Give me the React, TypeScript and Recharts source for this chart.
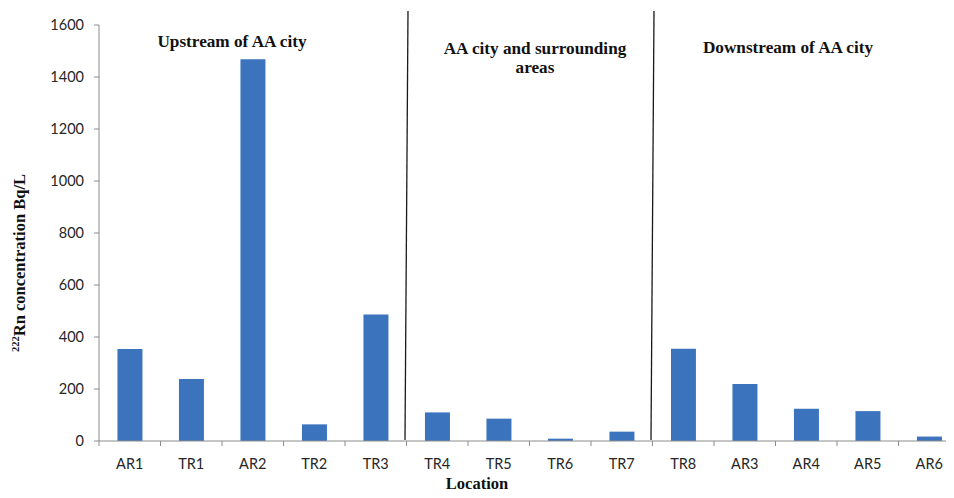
import React from 'react';
import { BarChart, Bar, XAxis, YAxis, ReferenceLine, Label } from 'recharts';

// Sampling locations along the river, upstream to downstream
const categories = ['AR1', 'TR1', 'AR2', 'TR2', 'TR3', 'TR4', 'TR5', 'TR6', 'TR7', 'TR8', 'AR3', 'AR4', 'AR5', 'AR6'];
// 222Rn activity concentration (Bq/L)
const radon = [354, 238, 1468, 64, 487, 110, 86, 9, 36, 355, 219, 124, 115, 17];
const yTicks = [0, 200, 400, 600, 800, 1000, 1200, 1400, 1600];
// last location of each zone before a divider
const zoneEnds = ['TR3', 'TR7'];

const data = categories.map((name, i) => ({ name, radon: radon[i] }));

const CHART_W = 962;
const CHART_H = 498;
const Y_AXIS_W = 99;
const RIGHT = 2;
const STEP = (CHART_W - Y_AXIS_W - RIGHT) / categories.length;

const axisGrey = '#8c8c8c';
const tickFont = 'Lato, "Liberation Sans", sans-serif';
const titleFont = '"Liberation Serif", "Times New Roman", serif';

// Excel-style category tick: mark sits on the band boundary, label in the middle
const CategoryTick = (props: any) => {
  const { x, y, payload, index } = props;
  const left = x - STEP / 2;
  return (
    <g>
      <line x1={left} x2={left} y1={y} y2={y + 5} stroke={axisGrey} />
      {index === categories.length - 1 && (
        <line x1={x + STEP / 2} x2={x + STEP / 2} y1={y} y2={y + 5} stroke={axisGrey} />
      )}
      <text x={x} y={y + 28} textAnchor="middle" fontFamily={tickFont} fontSize={14.5} fill="#262626">
        {payload.value}
      </text>
    </g>
  );
};

// hand-drawn looking divider, slightly tilted and running above the plot
const Divider = (props: any) => {
  const top = Math.min(props.y1, props.y2);
  const bottom = Math.max(props.y1, props.y2);
  return (
    <line
      x1={props.x1 + 1.5}
      y1={top - 14}
      x2={props.x2 - 1.5}
      y2={bottom - 1}
      stroke="#1a1a1a"
      strokeWidth={1.3}
    />
  );
};

const YTitle = () => (
  <text
    x={25}
    y={263}
    transform="rotate(-90, 25, 263)"
    textAnchor="middle"
    fontFamily={titleFont}
    fontWeight="bold"
    fontSize={16.5}
    fill="#111"
  >
    <tspan fontSize={10.5} dy={-6}>222</tspan>
    <tspan dy={6}>Rn concentration Bq/L</tspan>
  </text>
);

const zoneTitle = { fontFamily: titleFont, fontWeight: 'bold', fontSize: 17.2, fill: '#111' } as const;

export default function App() {
  return (
    <div style={{ margin: -8, width: 954, height: 498, overflow: 'hidden', position: 'relative', background: '#fff' }}>
      <BarChart
        width={CHART_W}
        height={CHART_H}
        data={data}
        margin={{ top: 25, right: RIGHT, left: 0, bottom: 0 }}
        barCategoryGap="30%"
      >
        <XAxis
          dataKey="name"
          interval={0}
          height={57}
          tickLine={false}
          tickSize={0}
          tickMargin={0}
          axisLine={{ stroke: axisGrey }}
          tick={<CategoryTick />}
        />
        <YAxis
          width={Y_AXIS_W}
          domain={[0, 1600]}
          ticks={yTicks}
          interval={0}
          tickSize={5}
          tickMargin={10}
          tickLine={{ stroke: axisGrey }}
          axisLine={{ stroke: axisGrey }}
          tick={{ fontFamily: tickFont, fontSize: 14.5, fill: '#262626' }}
        >
          <Label content={<YTitle />} />
        </YAxis>
        <Bar dataKey="radon" fill="#3b74bd" isAnimationActive={false} />
        {zoneEnds.map((c) => (
          <ReferenceLine key={c} x={c} position="end" shape={Divider} />
        ))}
      </BarChart>
      <svg width={954} height={498} style={{ position: 'absolute', left: 0, top: 0, pointerEvents: 'none' }}>
        <text x={232} y={47} textAnchor="middle" {...zoneTitle}>Upstream of AA city</text>
        <text x={535} y={54} textAnchor="middle" {...zoneTitle}>AA city and surrounding</text>
        <text x={535} y={73} textAnchor="middle" {...zoneTitle}>areas</text>
        <text x={788} y={53} textAnchor="middle" {...zoneTitle}>Downstream of AA city</text>
        <text x={477} y={489} textAnchor="middle" {...zoneTitle} fontSize={16.5}>Location</text>
      </svg>
    </div>
  );
}
